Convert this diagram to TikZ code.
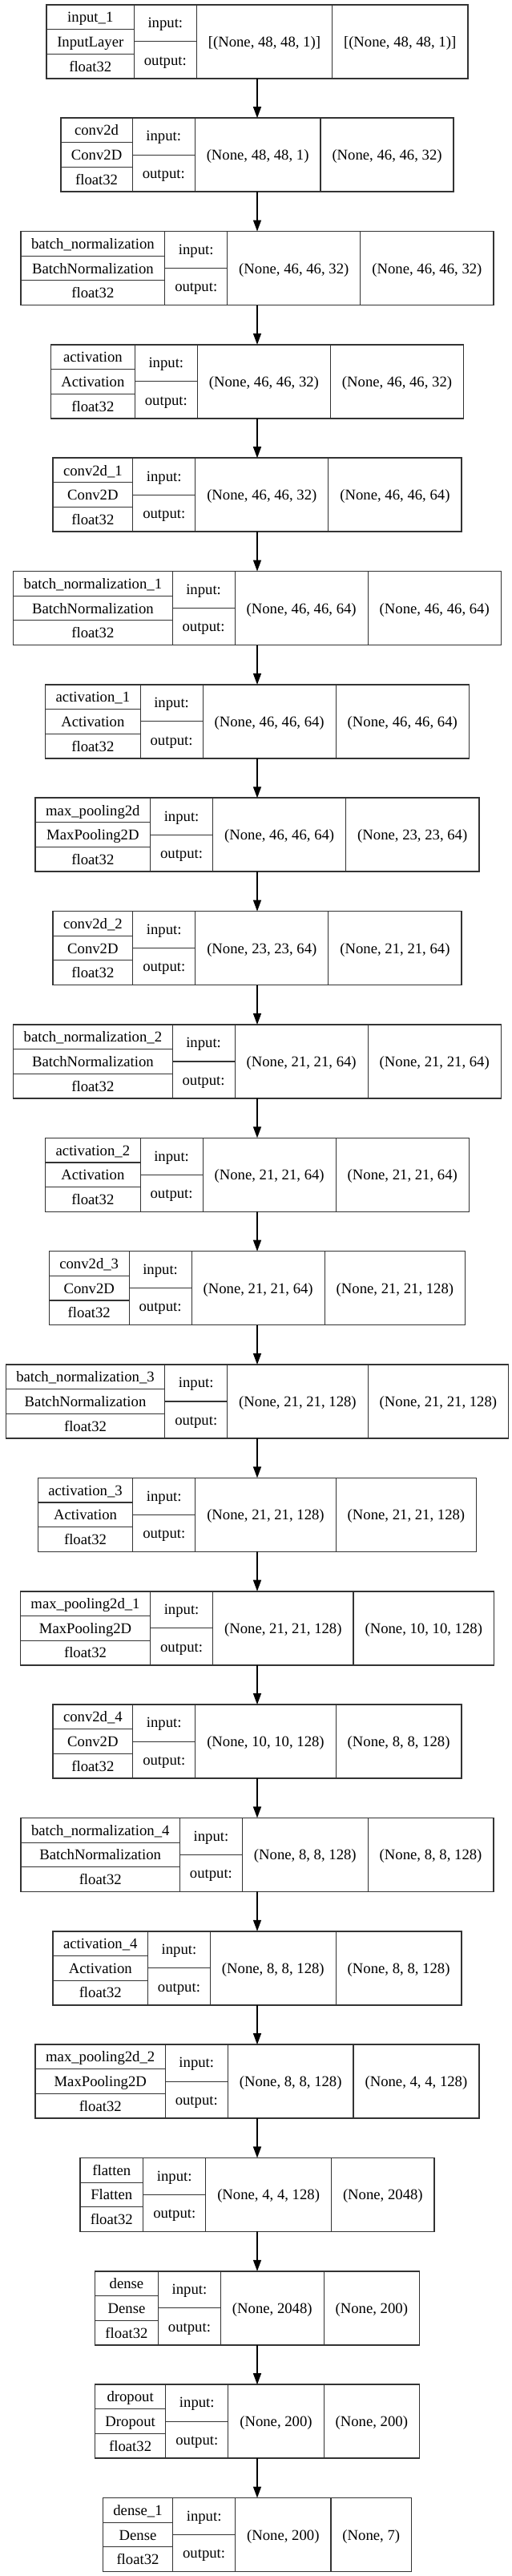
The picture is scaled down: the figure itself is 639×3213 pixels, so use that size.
\documentclass[tikz,border=0pt]{standalone}
\usepackage{fontspec}
\setmainfont{Liberation Serif}
\usepackage{tikz}
\usetikzlibrary{arrows.meta}
\newcommand\lfont{\fontsize{18.7}{22}\selectfont}
\newlength\wA
\newlength\wB
\newlength\wI
\newlength\wO
\newcommand\setwd[2]{\pgfinterruptpicture\settowidth{#1}{\lfont #2}\global#1=#1\relax\endpgfinterruptpicture}
\begin{document}
\begin{tikzpicture}[x=1pt, y=-1pt,
    box/.style={draw=black!80, line width=1.6pt, inner sep=0pt, outer sep=0pt, anchor=north west},
    cell/.style={draw=black!80, line width=1.1pt},
    lbl/.style={font=\lfont, inner sep=0pt, anchor=base},
    flow/.style={draw=black, line width=1.3pt, -{Triangle[length=14pt, width=10pt]}}]
    \useasboundingbox (0,0) rectangle (639,3213);
    \foreach \nm/\cls/\shin/\shout [count=\k] in {%
    input\_1/InputLayer/{[(None, 48, 48, 1)]}/{[(None, 48, 48, 1)]},%
    conv2d/Conv2D/{(None, 48, 48, 1)}/{(None, 46, 46, 32)},%
    batch\_normalization/BatchNormalization/{(None, 46, 46, 32)}/{(None, 46, 46, 32)},%
    activation/Activation/{(None, 46, 46, 32)}/{(None, 46, 46, 32)},%
    conv2d\_1/Conv2D/{(None, 46, 46, 32)}/{(None, 46, 46, 64)},%
    batch\_normalization\_1/BatchNormalization/{(None, 46, 46, 64)}/{(None, 46, 46, 64)},%
    activation\_1/Activation/{(None, 46, 46, 64)}/{(None, 46, 46, 64)},%
    max\_pooling2d/MaxPooling2D/{(None, 46, 46, 64)}/{(None, 23, 23, 64)},%
    conv2d\_2/Conv2D/{(None, 23, 23, 64)}/{(None, 21, 21, 64)},%
    batch\_normalization\_2/BatchNormalization/{(None, 21, 21, 64)}/{(None, 21, 21, 64)},%
    activation\_2/Activation/{(None, 21, 21, 64)}/{(None, 21, 21, 64)},%
    conv2d\_3/Conv2D/{(None, 21, 21, 64)}/{(None, 21, 21, 128)},%
    batch\_normalization\_3/BatchNormalization/{(None, 21, 21, 128)}/{(None, 21, 21, 128)},%
    activation\_3/Activation/{(None, 21, 21, 128)}/{(None, 21, 21, 128)},%
    max\_pooling2d\_1/MaxPooling2D/{(None, 21, 21, 128)}/{(None, 10, 10, 128)},%
    conv2d\_4/Conv2D/{(None, 10, 10, 128)}/{(None, 8, 8, 128)},%
    batch\_normalization\_4/BatchNormalization/{(None, 8, 8, 128)}/{(None, 8, 8, 128)},%
    activation\_4/Activation/{(None, 8, 8, 128)}/{(None, 8, 8, 128)},%
    max\_pooling2d\_2/MaxPooling2D/{(None, 8, 8, 128)}/{(None, 4, 4, 128)},%
    flatten/Flatten/{(None, 4, 4, 128)}/{(None, 2048)},%
    dense/Dense/{(None, 2048)}/{(None, 200)},%
    dropout/Dropout/{(None, 200)}/{(None, 200)},%
    dense\_1/Dense/{(None, 200)}/{(None, 7)}%
    }{
        \setwd\wA\nm
        \setwd\wB\cls
        \ifdim\wB>\wA \global\wA=\wB\fi
        \setwd\wB{float32}
        \ifdim\wB>\wA \global\wA=\wB\fi
        \setwd\wI\shin
        \setwd\wO\shout
        \pgfmathsetmacro\ca{\wA+26}
        \pgfmathsetmacro\ci{\wI+29}
        \pgfmathsetmacro\co{\wO+29}
        \pgfmathsetmacro\W{\ca+78+\ci+\co}
        \pgfmathsetmacro\xa{321-\W/2}
        \pgfmathsetmacro\xb{\xa+\ca}
        \pgfmathsetmacro\xc{\xb+78}
        \pgfmathsetmacro\xd{\xc+\ci}
        \pgfmathsetmacro\xe{\xa+\W}
        \pgfmathsetmacro\yt{5.8+(\k-1)*141.35}
        \node[box, minimum width=\W pt, minimum height=92pt] (L\k) at (\xa,\yt) {};
        \draw[cell] (\xb,\yt) -- ++(0,92) (\xc,\yt) -- ++(0,92) (\xd,\yt) -- ++(0,92);
        \draw[cell] (\xa,\yt+30.67) -- (\xb,\yt+30.67) (\xa,\yt+61.33) -- (\xb,\yt+61.33) (\xb,\yt+46) -- (\xc,\yt+46);
        \node[lbl] (n\k) at ({(\xa+\xb)/2},\yt+21.8) {\nm};
        \node[lbl] (c\k) at ({(\xa+\xb)/2},\yt+52.5) {\cls};
        \node[lbl] (d\k) at ({(\xa+\xb)/2},\yt+83.2) {float32};
        \node[lbl] (i\k) at ({(\xb+\xc)/2},\yt+28.8) {input:};
        \node[lbl] (o\k) at ({(\xb+\xc)/2},\yt+75.3) {output:};
        \node[lbl] (si\k) at ({(\xc+\xd)/2},\yt+52.5) {\shin};
        \node[lbl] (so\k) at ({(\xd+\xe)/2},\yt+52.5) {\shout};
    }
    \foreach \k in {1,...,22}{
        \pgfmathtruncatemacro\j{\k+1}
        \draw[flow] (L\k.south) -- (L\j.north);
    }
\end{tikzpicture}
\end{document}
